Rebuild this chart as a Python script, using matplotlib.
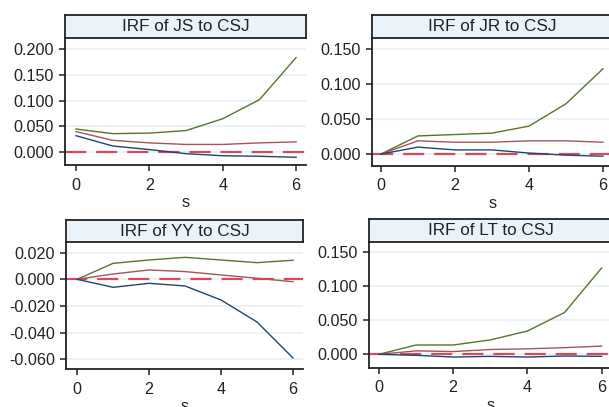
import matplotlib
matplotlib.use("Agg")
import matplotlib.pyplot as plt

plt.rcParams['font.family'] = ['Liberation Sans', 'DejaVu Sans']

W, H = 609, 407

steps = [0, 1, 2, 3, 4, 5, 6]

# IRF panels: upper bound (green), irf (red), lower bound (blue)
titles = ["IRF of JS to CSJ", "IRF of JR to CSJ", "IRF of YY to CSJ", "IRF of LT to CSJ"]

js_upper = [0.045, 0.036, 0.037, 0.042, 0.065, 0.102, 0.184]
js_irf = [0.040, 0.023, 0.018, 0.015, 0.015, 0.018, 0.020]
js_lower = [0.032, 0.012, 0.005, -0.003, -0.007, -0.008, -0.010]

jr_upper = [0.0, 0.026, 0.028, 0.030, 0.040, 0.072, 0.122]
jr_irf = [0.0, 0.019, 0.017, 0.017, 0.019, 0.019, 0.017]
jr_lower = [0.0, 0.010, 0.006, 0.006, 0.0015, -0.0015, -0.003]

yy_upper = [0.0, 0.012, 0.0145, 0.0165, 0.0145, 0.0125, 0.0143]
yy_irf = [0.0, 0.004, 0.007, 0.0058, 0.0033, 0.0008, -0.0018]
yy_lower = [0.0, -0.006, -0.003, -0.005, -0.0155, -0.032, -0.059]

lt_upper = [0.0, 0.0136, 0.0136, 0.021, 0.034, 0.061, 0.126]
lt_irf = [0.0, 0.005, 0.004, 0.007, 0.008, 0.0097, 0.012]
lt_lower = [0.0, -0.0015, -0.004, -0.003, -0.004, -0.0025, -0.003]

series = [(js_upper, js_irf, js_lower), (jr_upper, jr_irf, jr_lower),
          (yy_upper, yy_irf, yy_lower), (lt_upper, lt_irf, lt_lower)]

yticks = [[0.0, 0.05, 0.1, 0.15, 0.2],
          [0.0, 0.05, 0.1, 0.15],
          [-0.06, -0.04, -0.02, 0.0, 0.02],
          [0.0, 0.05, 0.1, 0.15]]

# pixel layout: (left, right, title_top, plot_top, plot_bottom)
boxes = [(65, 306, 15, 38, 165),
         (372, 613, 15, 38, 166),
         (66, 303, 220, 242, 369),
         (369, 612, 219, 242, 368)]
xlims = [(-0.30, 6.27), (-0.24, 6.27), (-0.31, 6.28), (-0.27, 6.28)]
ylims = [(-0.025, 0.222), (-0.017, 0.166), (-0.0673, 0.028), (-0.020, 0.164)]

green, red, blue, dash = '#55752f', '#a8525a', '#1a476f', '#d9485f'

fig = plt.figure(figsize=(W / 100, H / 100), dpi=100)

for i in range(4):
    l, r, tt, pt, pb = boxes[i]
    ax = fig.add_axes([l / W, 1 - pb / H, (r - l) / W, (pb - pt) / H])
    tax = fig.add_axes([l / W, 1 - pt / H, (r - l) / W, (pt - tt) / H])

    up, mid, lo = series[i]
    ax.axhline(0, color=dash, lw=1.6, dashes=(9.5, 4.5), zorder=2)
    ax.plot(steps, up, color=green, lw=1.0, zorder=3)
    ax.plot(steps, mid, color=red, lw=1.0, zorder=3)
    ax.plot(steps, lo, color=blue, lw=1.0, zorder=3)

    ax.set_xlim(*xlims[i])
    ax.set_ylim(*ylims[i])
    ax.set_xticks([0, 2, 4, 6])
    ax.set_yticks(yticks[i])
    ax.set_yticklabels(['%.3f' % v for v in yticks[i]])
    ax.yaxis.grid(True, color='#eaf2f3', lw=1.5)
    ax.set_axisbelow(True)
    for s in ['top', 'right']:
        ax.spines[s].set_visible(False)
    for s in ['left', 'bottom']:
        ax.spines[s].set_color('#222222')
        ax.spines[s].set_linewidth(1.3)
    ax.tick_params(direction='out', length=4.5, width=1.1, color='#222222',
                   labelsize=11.6, labelcolor='#222222')
    ax.tick_params(axis='x', pad=4.5)
    ax.tick_params(axis='y', pad=3.5)
    ax.set_xlabel('s', fontsize=11.6, color='#222222', labelpad=2)

    tax.set_facecolor('#eaf2fa')
    tax.set_xticks([])
    tax.set_yticks([])
    for s in tax.spines.values():
        s.set_color('#222222')
        s.set_linewidth(1.3)
    tax.text(0.5, 0.48, titles[i], ha='center', va='center', fontsize=12.3,
             color='#222222', transform=tax.transAxes)

fig.savefig('out.png', dpi=100)
